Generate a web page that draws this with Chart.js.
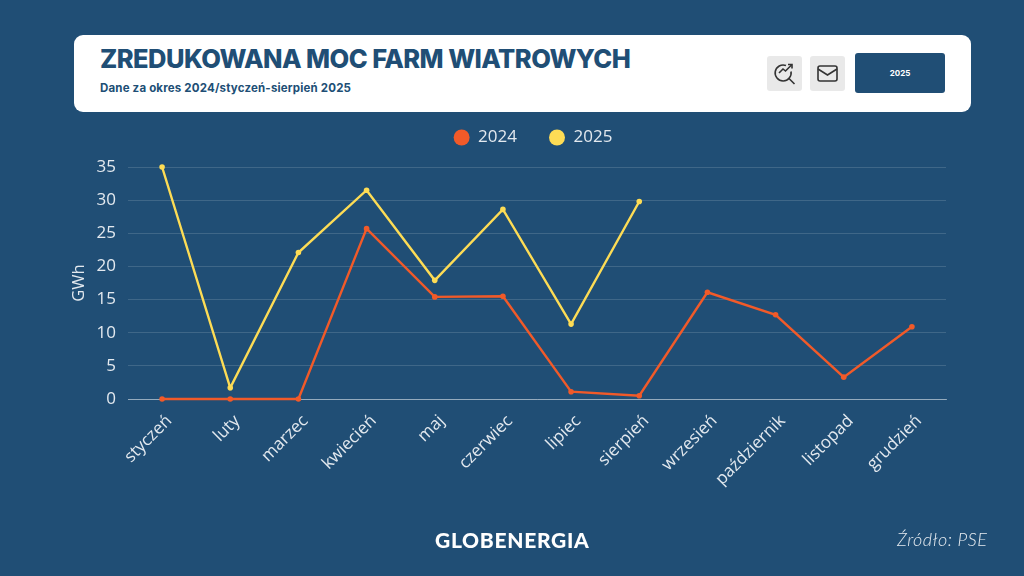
<!DOCTYPE html>
<html lang="pl">
<head>
<meta charset="utf-8">
<title>Zredukowana moc farm wiatrowych</title>
<script src="https://cdn.jsdelivr.net/npm/chart.js@4"></script>
<style>
  html, body { margin: 0; padding: 0; background: #204e75; }
  body { width: 1024px; height: 576px; position: relative; overflow: hidden; }
  #occupancy { position: absolute; left: 0; top: 0; }
  .card { position: absolute; left: 74px; top: 35px; width: 897px; height: 77px; background: #fff; border-radius: 9px; }
  .title { position: absolute; left: 26px; top: 8px; font: 800 25.5px Inter, sans-serif; letter-spacing: -0.55px; color: #204e75; white-space: nowrap; }
  .subtitle { position: absolute; left: 26px; top: 46px; font: 700 11.5px Inter, sans-serif; letter-spacing: 0.18px; color: #204e75; white-space: nowrap; }
  .icon { position: absolute; top: 21px; width: 35px; height: 35px; background: #e9e9e9; border-radius: 3px; }
  .btn { position: absolute; left: 781px; top: 18px; width: 90px; height: 40px; background: #204e75; border-radius: 3px; color: #fff; font: 700 8px/40px Inter, sans-serif; text-align: center; }
  .logo { position: absolute; left: 435px; top: 527px; font: 900 21px Lato, sans-serif; letter-spacing: 0.7px; color: #fff; }
  .source { position: absolute; left: 897px; top: 528px; font: italic 300 18px Lato, sans-serif; letter-spacing: 0.5px; color: #e6ebf0; }
</style>
</head>
<body>
<canvas id="occupancy" width="1024" height="576"></canvas>
<div class="card">
  <div class="title">ZREDUKOWANA MOC FARM WIATROWYCH</div>
  <div class="subtitle">Dane za okres 2024/styczeń-sierpień 2025</div>
  <div class="icon" style="left:693px">
    <svg width="35" height="35" viewBox="0 0 35 35" fill="none" stroke="#333" stroke-width="1.6">
      <path d="M19 9.5a8 8 0 1 0 5 6"/><path d="M21.5 22l6 6"/><path d="M12 17l4-4 2.500 2 6-6"/><path d="M21 8.500h4v4"/>
    </svg>
  </div>
  <div class="icon" style="left:736px">
    <svg width="35" height="35" viewBox="0 0 35 35" fill="none" stroke="#333" stroke-width="1.6">
      <rect x="8" y="10" width="19" height="15" rx="2"/><path d="M8 13l9.500 6 9.500-6"/>
    </svg>
  </div>
  <div class="btn">2025</div>
</div>
<div class="logo">GLOBENERGIA</div>
<div class="source">Źródło: PSE</div>
<script>
// Data
const months = ['styczeń', 'luty', 'marzec', 'kwiecień', 'maj', 'czerwiec', 'lipiec', 'sierpień', 'wrzesień', 'październik', 'listopad', 'grudzień'];
const values2024 = [0, 0, 0, 25.7, 15.4, 15.5, 1.1, 0.5, 16.1, 12.7, 3.3, 10.9];
const values2025 = [35, 1.7, 22.1, 31.5, 17.9, 28.6, 11.3, 29.8, null, null, null, null];

const textColor = '#e3e9ef';
const fontFamily = '"Open Sans", sans-serif';

function lineSet(label, data, color) {
    return {
        label: label,
        data: data,
        borderColor: color,
        backgroundColor: color,
        borderWidth: 2.4,
        pointRadius: 2.8,
        pointBorderWidth: 0,
        pointHoverRadius: 2.8,
        tension: 0,
        clip: false
    };
}

// Fixed legend height so the plot area stays put, legend nudged left a little
const legendTweak = {
    id: 'legendTweak',
    beforeInit(chart) {
        const legend = chart.legend;
        const fit = legend.fit;
        const draw = legend.draw;
        legend.fit = function() {
            fit.call(this);
            this.height = 70;
        };
        legend.draw = function() {
            const ctx = this.ctx;
            ctx.save();
            ctx.translate(-4, 0);
            draw.call(this);
            ctx.restore();
        };
    }
};

new Chart(document.getElementById('occupancy').getContext('2d'), {
    type: 'line',
    plugins: [legendTweak],
    data: {
        labels: months,
        datasets: [lineSet('2024', values2024, '#f15a29'), lineSet('2025', values2025, '#fddc55')]
    },
    options: {
        responsive: false,
        animation: false,
        devicePixelRatio: 1,
        layout: { padding: { top: 97, left: 69, right: 78, bottom: 0 } },
        plugins: {
            legend: {
                position: 'top',
                fullSize: false,
                labels: {
                    color: textColor,
                    usePointStyle: true,
                    pointStyle: 'circle',
                    boxWidth: 16,
                    boxHeight: 11.3,
                    padding: 32,
                    font: { family: fontFamily, size: 17 }
                }
            },
            tooltip: { enabled: false }
        },
        scales: {
            x: {
                offset: true,
                afterFit(scale) { scale.height = 177; },
                grid: { display: false, drawTicks: false },
                border: { color: 'rgba(255, 255, 255, 0.45)', width: 1 },
                ticks: {
                    color: textColor,
                    maxRotation: 45,
                    minRotation: 45,
                    autoSkip: false,
                    padding: 12,
                    labelOffset: 7,
                    font: { family: fontFamily, size: 17 }
                }
            },
            y: {
                min: 0,
                max: 35,
                afterFit(scale) { scale.width = 59; },
                grid: { color: 'rgba(255, 255, 255, 0.14)', drawTicks: false },
                border: { display: false },
                ticks: {
                    color: textColor,
                    stepSize: 5,
                    padding: 12,
                    font: { family: fontFamily, size: 17 }
                },
                title: {
                    display: true,
                    text: 'GWh',
                    color: textColor,
                    padding: 0,
                    font: { family: fontFamily, size: 16.5 }
                }
            }
        }
    }
});
</script>
</body>
</html>
